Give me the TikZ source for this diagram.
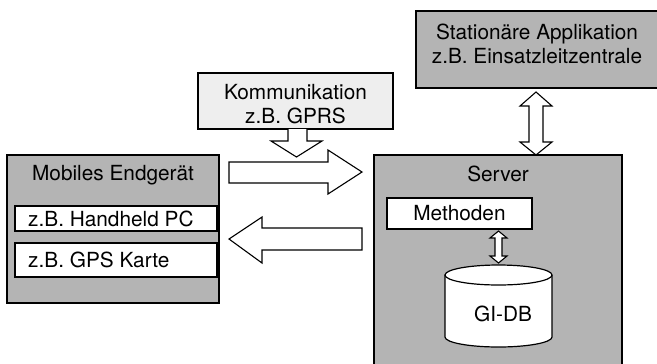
\documentclass[tikz,border=0pt]{standalone}
\usepackage{fontspec}
\setmainfont{TeX Gyre Heros}
\begin{document}
\begin{tikzpicture}[x=1bp,y=-1bp,
  every node/.style={font=\fontsize{20.8bp}{24bp}\selectfont, inner sep=0pt},
  graybox/.style={draw=black, line width=1.2bp, fill=boxgray},
  whitebox/.style={draw=black, line width=1.2bp, fill=white},
  blockarrow/.style={draw=black, line width=1.1bp, fill=white, line join=miter}]
\definecolor{boxgray}{HTML}{B4B4B4}
\definecolor{lightbox}{HTML}{EEEEEE}
\useasboundingbox (0,0) rectangle (657,363);
\fill[white] (0,0) rectangle (657,363);
\clip (0,0) rectangle (657,363);
% Mobile device
\draw[graybox] (7,155) rectangle (219,303);
\node (mobt) at (113,175) {Mobiles Endgerät};
\draw[whitebox] (15,206) rectangle (217,231);
\node[anchor=west] (hh) at (28,218.5) {z.B. Handheld PC};
\draw[whitebox] (15,243) rectangle (217,277);
\node[anchor=west] (gps) at (28,260) {z.B. GPS Karte};
% Kommunikation
\draw[draw=black, line width=1.2bp, fill=lightbox] (198,73) rectangle (393,129);
\node[align=center] (komm) at (295.5,104) {Kommunikation\\z.B. GPRS};
% down arrow
\draw[blockarrow] (288,129) -- (288,141) -- (271,141) -- (296.5,157) -- (322,141) -- (307,141) -- (307,129);
% right arrow
\draw[blockarrow] (229,162) -- (328,162) -- (328,150) -- (362,172) -- (328,194) -- (328,183) -- (229,183) -- cycle;
% left arrow
\draw[blockarrow] (362,228) -- (262,228) -- (262,217) -- (229,239) -- (262,263) -- (262,250) -- (362,250) -- cycle;
% Stationaere
\draw[graybox] (416,11) rectangle (662,88);
\node[align=center] (stat) at (537,44) {Stationäre Applikation\\z.B. Einsatzleitzentrale};
% vertical double arrow
\draw[blockarrow] (536,92) -- (552,106) -- (543,106) -- (543,142) -- (552,142) -- (536,155) -- (520,142) -- (529,142) -- (529,106) -- (520,106) -- cycle;
% Server
\draw[graybox] (374,155) rectangle (622,370);
\node (srv) at (498,174) {Server};
\draw[whitebox] (387,198) rectangle (532,229);
\node (meth) at (459.5,213.5) {Methoden};
% small double arrow
\draw[blockarrow] (498.5,231) -- (507,238) -- (502,238) -- (502,256) -- (507,256) -- (498.5,263) -- (490,256) -- (495,256) -- (495,238) -- (490,238) -- cycle;
% cylinder
\draw[whitebox] (445,275) -- (445,337) arc[start angle=180, end angle=0, x radius=53.5, y radius=10] -- (552,275) arc[start angle=0, end angle=-180, x radius=53.5, y radius=10] -- cycle;
\draw[line width=1.2bp] (445,275) arc[start angle=180, end angle=0, x radius=53.5, y radius=10];
\node (db) at (503,314) {GI-DB};
\end{tikzpicture}
\end{document}
